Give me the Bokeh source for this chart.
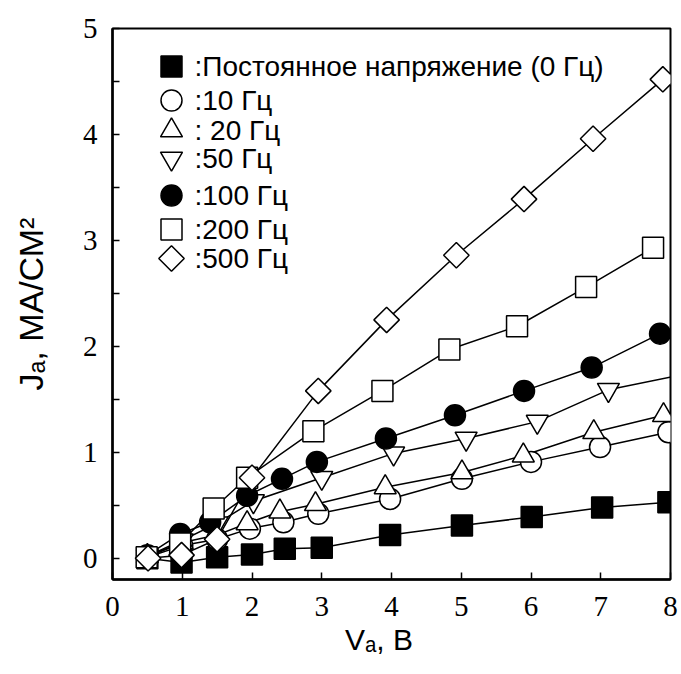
import math
from bokeh.plotting import figure
from bokeh.models import Range1d, FixedTicker, ColumnDataSource, Label
from bokeh.embed import file_html
from bokeh.resources import INLINE

# ---------------- data ----------------
series_labels = [":Постоянное напряжение (0 Гц)", ":10 Гц", ": 20 Гц", ":50 Гц",
                 ":100 Гц", ":200 Гц", ":500 Гц"]

v_dc = [0.5, 0.99, 1.5, 2.0, 2.47, 3.0, 3.98, 5.01, 6.01, 7.02, 7.97]
j_dc = [0.0, -0.04, 0.01, 0.035, 0.09, 0.10, 0.22, 0.31, 0.39, 0.48, 0.53]

v_10 = [0.5, 1.0, 1.5, 1.97, 2.45, 2.95, 3.98, 5.01, 6.0, 6.99, 7.97]
j_10 = [0.01, 0.12, 0.18, 0.28, 0.34, 0.42, 0.56, 0.75, 0.91, 1.05, 1.19]

v_20 = [0.5, 1.0, 1.5, 1.93, 2.40, 2.91, 3.91, 5.01, 5.89, 6.90, 7.90]
j_20 = [0.02, 0.15, 0.22, 0.33, 0.44, 0.51, 0.67, 0.81, 0.97, 1.19, 1.35]

v_50 = [0.5, 1.0, 1.5, 2.02, 3.0, 4.03, 5.07, 6.09, 7.11, 8.3]
j_50 = [0.02, 0.17, 0.33, 0.54, 0.76, 0.99, 1.13, 1.29, 1.59, 1.75]

v_100 = [0.5, 0.97, 1.40, 1.93, 2.43, 2.93, 3.92, 4.91, 5.90, 6.87, 7.85]
j_100 = [0.03, 0.23, 0.34, 0.59, 0.75, 0.91, 1.13, 1.35, 1.58, 1.80, 2.12]

v_200 = [0.49, 0.97, 1.45, 1.93, 2.88, 3.87, 4.83, 5.80, 6.79, 7.75]
j_200 = [0.01, 0.14, 0.47, 0.76, 1.20, 1.58, 1.97, 2.19, 2.56, 2.93]

v_500 = [0.51, 0.99, 1.50, 2.0, 2.95, 3.93, 4.93, 5.90, 6.89, 7.89]
j_500 = [0.0, 0.03, 0.18, 0.76, 1.58, 2.25, 2.86, 3.39, 3.96, 4.52]

x_ticks = [0, 1, 2, 3, 4, 5, 6, 7, 8]
y_ticks = [0, 1, 2, 3, 4, 5]
y_minor = [0.5, 1.5, 2.5, 3.5, 4.5]

x_title = "Vₐ, В\u00a0\u00a0\u00a0"
y_title = "Jₐ, МА/СМ²"

# ---------------- styles ----------------
styles = [
    dict(marker="square", size=21, fill="black", angle=0.0),
    dict(marker="circle", size=21, fill="white", angle=0.0),
    dict(marker="triangle", size=22, fill="white", angle=0.0),
    dict(marker="inverted_triangle", size=22, fill="white", angle=0.0),
    dict(marker="circle", size=21, fill="black", angle=0.0),
    dict(marker="square", size=21, fill="white", angle=0.0),
    dict(marker="square", size=18, fill="white", angle=math.pi / 4),
]
series = [(v_dc, j_dc), (v_10, j_10), (v_20, j_20), (v_50, j_50),
          (v_100, j_100), (v_200, j_200), (v_500, j_500)]

# frame geometry (pixels)
W, H = 681, 674
FL, FT, FW, FH = 112, 28, 558, 551
X0, X1, Y0, Y1 = 0.0, 8.0, -0.2, 5.0


def dx(px):
    return X0 + (px - FL) * (X1 - X0) / FW


def dy(py):
    return Y1 - (py - FT) * (Y1 - Y0) / FH


p = figure(width=W, height=H, frame_width=FW, frame_height=FH,
           x_range=Range1d(X0, X1), y_range=Range1d(Y0, Y1),
           output_backend="svg", toolbar_location=None,
           min_border_left=FL, min_border_top=FT,
           min_border_right=W - FL - FW, min_border_bottom=H - FT - FH)
p.background_fill_color = "white"
p.border_fill_color = "white"
p.xgrid.visible = False
p.ygrid.visible = False
p.outline_line_color = "black"
p.outline_line_width = 2

for ax in (p.xaxis[0], p.yaxis[0]):
    ax.axis_line_width = 2.5
    ax.axis_line_color = "black"
    ax.major_tick_in = 7
    ax.major_tick_out = 0
    ax.minor_tick_in = 7
    ax.minor_tick_out = 0
    ax.major_tick_line_width = 1.5
    ax.minor_tick_line_width = 1.5
    ax.major_tick_line_color = "black"
    ax.minor_tick_line_color = "black"
    ax.major_label_text_font = "Liberation Serif"
    ax.major_label_text_font_size = "29px"
    ax.major_label_text_color = "black"
    ax.axis_label_text_font = "Liberation Sans"
    ax.axis_label_text_font_style = "normal"
    ax.axis_label_text_color = "black"

p.xaxis.ticker = FixedTicker(ticks=x_ticks)
p.yaxis.ticker = FixedTicker(ticks=y_ticks, minor_ticks=y_minor)
p.xaxis.minor_tick_line_color = None
p.xaxis.major_label_standoff = 17
p.yaxis.major_label_standoff = 15

p.xaxis.axis_label = x_title
p.xaxis.axis_label_text_font_size = "30px"
p.xaxis.axis_label_standoff = 4
p.yaxis.axis_label = y_title
p.yaxis.axis_label_text_font_size = "34px"
p.yaxis.axis_label_standoff = 30

# lines first
for (vx, jy) in series:
    p.line(vx, jy, line_color="black", line_width=1.5)

# markers
for (vx, jy), st in zip(series, styles):
    src = ColumnDataSource(dict(x=vx, y=jy))
    p.scatter("x", "y", source=src, marker=st["marker"], size=st["size"],
              angle=st["angle"], fill_color=st["fill"], line_color="black",
              line_width=1.5)

# legend (manual layout inside the frame)
leg_py = [66, 100, 130, 158, 195, 229, 258]
leg_mx = dx(171)
leg_tx = dx(194)
for lab, st, py in zip(series_labels, styles, leg_py):
    p.scatter([leg_mx], [dy(py)], marker=st["marker"], size=st["size"],
              angle=st["angle"], fill_color=st["fill"], line_color="black",
              line_width=1.5)
    p.add_layout(Label(x=leg_tx, y=dy(py), text=lab, text_font="Liberation Sans",
                       text_font_size="28px", text_baseline="middle",
                       text_align="left", text_color="black"))

open("out.html", "w").write(file_html(p, INLINE))
